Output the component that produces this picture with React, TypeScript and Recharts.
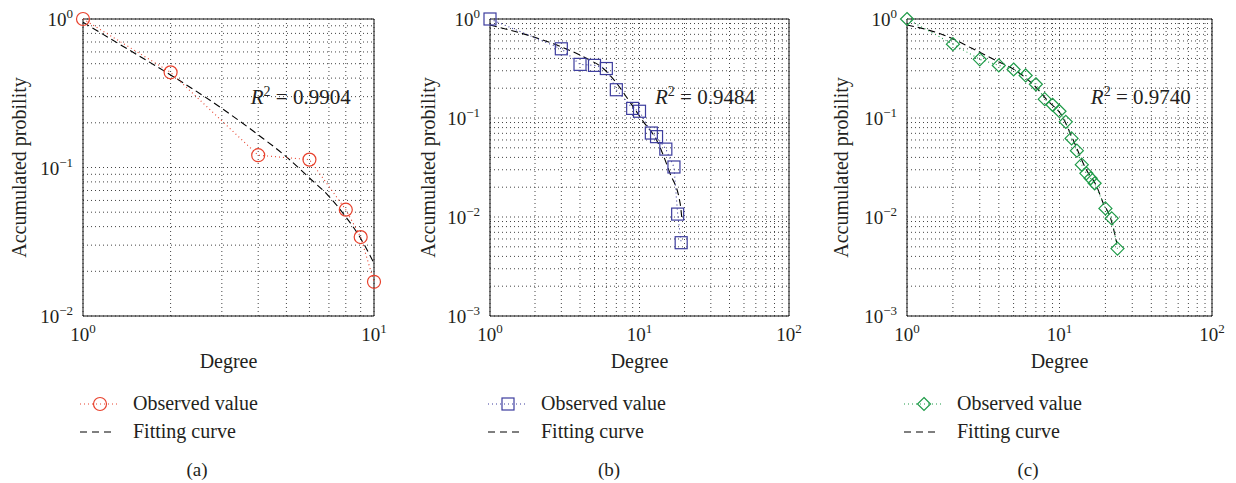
import React from 'react';
import { LineChart, Line, XAxis, YAxis, CartesianGrid, ReferenceArea, ReferenceDot, Legend, Label } from 'recharts';

const FONT = '"Liberation Serif", "DejaVu Serif", serif';
const INK = '#231f20';

// (a) observed degree distribution and fitted curve
const degreeA = [1, 2, 4, 6, 8, 9, 10];
const observedA = [1, 0.4375, 0.121, 0.113, 0.052, 0.034, 0.017];
const fitDegreeA = [1, 1.5, 2, 3, 4, 5, 6, 7, 8, 9, 10];
const fitA = [0.95, 0.59, 0.42, 0.25, 0.166, 0.118, 0.085, 0.064, 0.0465, 0.0333, 0.0226];

// (b)
const degreeB = [1, 3, 4, 5, 6, 7, 9, 10, 12, 13, 15, 17, 18, 19];
const observedB = [1, 0.5, 0.348, 0.34, 0.316, 0.193, 0.125, 0.117, 0.0705, 0.0648, 0.0485, 0.032, 0.0107, 0.0055];
const fitDegreeB = [1, 1.95, 2.8, 4.4, 5.7, 6.9, 8.6, 10.6, 13, 16, 18.7, 19.2];
const fitB = [0.87, 0.66, 0.546, 0.401, 0.318, 0.233, 0.146, 0.092, 0.06, 0.0276, 0.0137, 0.0097];

// (c)
const degreeC = [1, 2, 3, 4, 5, 6, 7, 8, 9, 10, 11, 12, 13, 14, 15, 16, 17, 20, 22, 24];
const observedC = [1, 0.557, 0.391, 0.34, 0.309, 0.269, 0.219, 0.155, 0.136, 0.117, 0.0915, 0.0622, 0.0468, 0.0338, 0.0276, 0.0246, 0.0219, 0.0122, 0.0097, 0.0048];
const fitDegreeC = [1, 1.87, 2.66, 3.78, 5.1, 6.6, 8.5, 10.3, 12.3, 15, 17.5, 19.4, 21.5, 23.8];
const fitC = [0.87, 0.66, 0.506, 0.385, 0.305, 0.224, 0.146, 0.107, 0.06, 0.03, 0.0205, 0.0137, 0.01, 0.0054];

const r2Values = ['0.9904', '0.9484', '0.9740'];
const captions = ['(a)', '(b)', '(c)'];

// grid ticks (only powers of ten get a label)
const xTicksA = [1, 2, 3, 4, 5, 6, 7, 8, 9, 10];
const yTicksA = [0.01, 0.02, 0.03, 0.04, 0.05, 0.06, 0.07, 0.08, 0.09, 0.1, 0.2, 0.3, 0.4, 0.5, 0.6, 0.7, 0.8, 0.9, 1];
const xTicksBC = [1, 2, 3, 4, 5, 6, 7, 8, 9, 10, 20, 30, 40, 50, 60, 70, 80, 90, 100];
const yTicksBC = [0.001, 0.002, 0.003, 0.004, 0.005, 0.006, 0.007, 0.008, 0.009, 0.01, 0.02, 0.03, 0.04, 0.05, 0.06, 0.07, 0.08, 0.09, 0.1, 0.2, 0.3, 0.4, 0.5, 0.6, 0.7, 0.8, 0.9, 1];

const toPoints = (xs: number[], ys: number[]) => xs.map((x, i) => ({ x, y: ys[i] }));

const exponentOf = (v: number) => {
  const e = Math.round(Math.log10(v));
  return Math.abs(v - Math.pow(10, e)) < 1e-9 * Math.max(v, 1) ? e : null;
};
const expText = (e: number) => (e < 0 ? `\u2212${-e}` : `${e}`);

type Marker = 'circle' | 'square' | 'diamond';

function drawMarker(kind: Marker, cx: number, cy: number, color: string, key?: string) {
  if (kind === 'circle') return <circle key={key} cx={cx} cy={cy} r={6.5} fill="none" stroke={color} strokeWidth={1.2} />;
  if (kind === 'square') return <rect key={key} x={cx - 6} y={cy - 6} width={12} height={12} fill="none" stroke={color} strokeWidth={1.2} />;
  return <path key={key} d={`M${cx} ${cy - 6.5}L${cx + 6.5} ${cy}L${cx} ${cy + 6.5}L${cx - 6.5} ${cy}Z`} fill="none" stroke={color} strokeWidth={1.2} />;
}

const XTick = (props: any) => {
  const e = exponentOf(props.payload.value);
  if (e === null) return <g />;
  return (
    <text x={props.x} y={props.y + 25} textAnchor="middle" fontFamily={FONT} fontSize={19} fill={INK}>
      <tspan>10</tspan>
      <tspan dy={-8} fontSize={13}>{expText(e)}</tspan>
    </text>
  );
};

const YTick = (props: any) => {
  const e = exponentOf(props.payload.value);
  if (e === null) return <g />;
  return (
    <text x={props.x - 10} y={props.y + 7} textAnchor="end" fontFamily={FONT} fontSize={19} fill={INK}>
      <tspan>10</tspan>
      <tspan dy={-8} fontSize={13}>{expText(e)}</tspan>
    </text>
  );
};

type Panel = {
  left: number;
  width: number;
  margin: { top: number; right: number; bottom: number; left: number };
  color: string;
  marker: Marker;
  xDomain: [number, number];
  yDomain: [number, number];
  xTicks: number[];
  yTicks: number[];
  observed: { x: number; y: number }[];
  fit: { x: number; y: number }[];
  r2: string;
  r2At: { x: number; y: number };
  caption: string;
  yLabelX: number;
  legendLeft: number;
  captionX: number;
};

const panels: Panel[] = [
  {
    left: 0, width: 410, margin: { top: 19, right: 36, bottom: 127, left: 23 },
    color: '#e8412c', marker: 'circle', xDomain: [1, 10], yDomain: [0.01, 1],
    xTicks: xTicksA, yTicks: yTicksA,
    observed: toPoints(degreeA, observedA), fit: toPoints(fitDegreeA, fitA),
    r2: r2Values[0], r2At: { x: 3.8, y: 0.264 }, caption: captions[0],
    yLabelX: 26, legendLeft: 80, captionX: 197,
  },
  {
    left: 410, width: 416, margin: { top: 19, right: 37, bottom: 127, left: 20 },
    color: '#3d3d9e', marker: 'square', xDomain: [1, 100], yDomain: [0.001, 1],
    xTicks: xTicksBC, yTicks: yTicksBC,
    observed: toPoints(degreeB, observedB), fit: toPoints(fitDegreeB, fitB),
    r2: r2Values[1], r2At: { x: 12.9, y: 0.135 }, caption: captions[1],
    yLabelX: 25, legendLeft: 78, captionX: 199,
  },
  {
    left: 826, width: 410, margin: { top: 19, right: 24, bottom: 127, left: 21 },
    color: '#1e9b48', marker: 'diamond', xDomain: [1, 100], yDomain: [0.001, 1],
    xTicks: xTicksBC, yTicks: yTicksBC,
    observed: toPoints(degreeC, observedC), fit: toPoints(fitDegreeC, fitC),
    r2: r2Values[2], r2At: { x: 16.3, y: 0.135 }, caption: captions[2],
    yLabelX: 22, legendLeft: 78, captionX: 202,
  },
];

const HEIGHT = 483;

function LegendBox({ p }: { p: Panel }) {
  const L = p.legendLeft;
  return (
    <svg width={p.width} height={HEIGHT} style={{ position: 'absolute', left: 0, top: 0 }}>
      <line x1={L} x2={L + 38} y1={404} y2={404} stroke={p.color} strokeWidth={1} strokeDasharray="1 3" />
      {drawMarker(p.marker, L + 20, 404, p.color)}
      <text x={L + 53} y={410} fontFamily={FONT} fontSize={20} fill={INK}>Observed value</text>
      <line x1={L} x2={L + 36} y1={432} y2={432} stroke="#000" strokeWidth={1.2} strokeDasharray="7 5" />
      <text x={L + 53} y={438} fontFamily={FONT} fontSize={20} fill={INK}>Fitting curve</text>
      <text x={p.captionX} y={476} textAnchor="middle" fontFamily={FONT} fontSize={19} fill={INK}>{p.caption}</text>
    </svg>
  );
}

function PanelChart({ p }: { p: Panel }) {
  return (
    <div style={{ position: 'absolute', left: p.left, top: 0 }}>
      <LineChart width={p.width} height={HEIGHT} margin={p.margin}>
        <CartesianGrid stroke="#444" strokeDasharray="1 3" strokeWidth={1} />
        <XAxis
          dataKey="x" type="number" scale="log" domain={p.xDomain} ticks={p.xTicks}
          interval={0} height={40} tickSize={0} tickMargin={0} axisLine={false} tickLine={false}
          tick={<XTick />}
        >
          <Label
            content={(lp: any) => (
              <text x={lp.viewBox.x + lp.viewBox.width / 2} y={lp.viewBox.y + 52} textAnchor="middle" fontFamily={FONT} fontSize={20} fill={INK}>
                Degree
              </text>
            )}
          />
        </XAxis>
        <YAxis
          dataKey="y" type="number" scale="log" domain={p.yDomain} ticks={p.yTicks}
          interval={0} width={60} tickSize={0} tickMargin={0} axisLine={false} tickLine={false}
          tick={<YTick />}
        >
          <Label
            content={(lp: any) => {
              const cy = lp.viewBox.y + lp.viewBox.height / 2;
              return (
                <text x={p.yLabelX} y={cy} transform={`rotate(-90 ${p.yLabelX} ${cy})`} textAnchor="middle" fontFamily={FONT} fontSize={20} fill={INK}>
                  Accumulated probility
                </text>
              );
            }}
          />
        </YAxis>
        <ReferenceArea x1={p.xDomain[0]} x2={p.xDomain[1]} y1={p.yDomain[0]} y2={p.yDomain[1]} fill="none" stroke="#111" strokeWidth={1} />
        <Line
          data={p.fit} dataKey="y" type="monotone" stroke="#000" strokeWidth={1.1} strokeDasharray="7 4"
          dot={false} activeDot={false} isAnimationActive={false}
        />
        <Line
          data={p.observed} dataKey="y" type="linear" stroke={p.color} strokeWidth={1.1} strokeDasharray="1 3"
          dot={(d: any) => drawMarker(p.marker, d.cx, d.cy, p.color, `m-${d.index}`)}
          activeDot={false} isAnimationActive={false}
        />
        <ReferenceDot
          x={p.r2At.x} y={p.r2At.y} r={1} fill="none" stroke="none"
          label={{
            content: (lp: any) => (
              <text x={lp.viewBox.x} y={lp.viewBox.y} fontFamily={FONT} fontSize={21} fill={INK}>
                <tspan fontStyle="italic">R</tspan>
                <tspan dy={-8} fontSize={14}>2</tspan>
                <tspan dy={8}> = {p.r2}</tspan>
              </text>
            ),
          }}
        />
        <Legend
          layout="horizontal" verticalAlign="middle" align="center"
          wrapperStyle={{ left: 0, top: 0, width: p.width, height: HEIGHT, pointerEvents: 'none' }}
          content={() => <LegendBox p={p} />}
        />
      </LineChart>
    </div>
  );
}

export default function App() {
  return (
    <div style={{ position: 'absolute', left: 0, top: 0, width: 1236, height: HEIGHT, background: '#fff' }}>
      {panels.map((p, i) => (
        <PanelChart key={i} p={p} />
      ))}
    </div>
  );
}
